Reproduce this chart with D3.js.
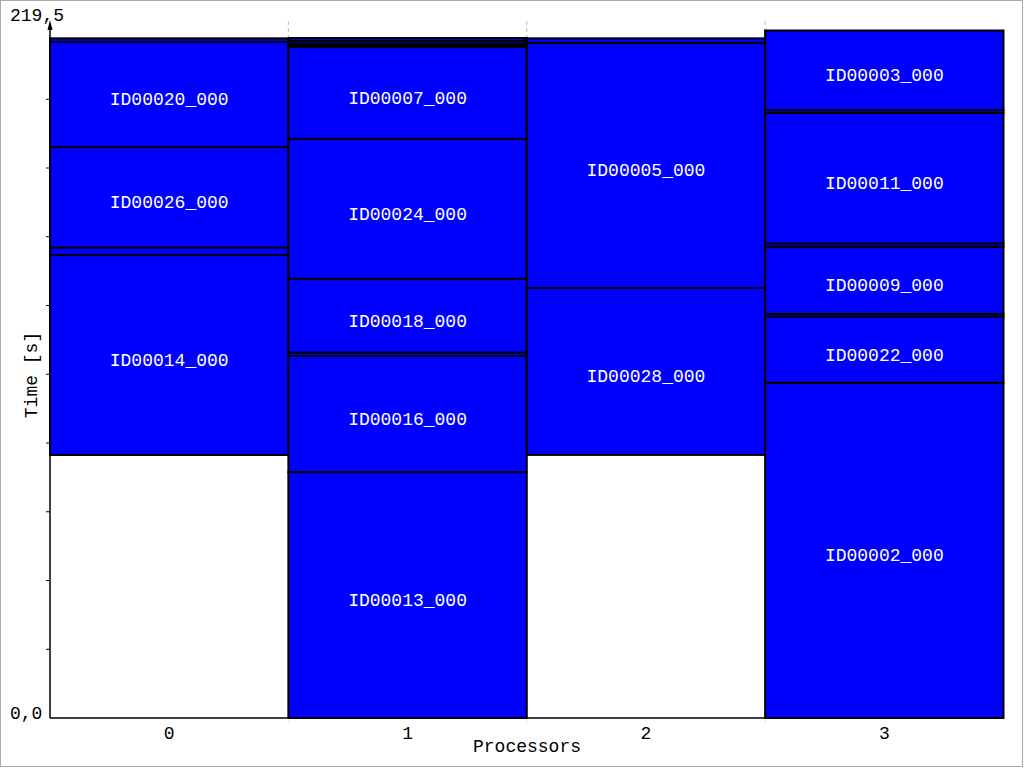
<!DOCTYPE html>
<html><head><meta charset="utf-8">
<script src="https://cdn.jsdelivr.net/npm/d3@7"></script>
<style>body{margin:0;background:#fff}svg{display:block}text{font-family:"Liberation Mono","Courier New",monospace}</style>
</head><body>
<script>
const processors = ["0","1","2","3"];
const taskProc  = [0,0,0,0,0, 1,1,1,1,1,1,1,1,1,1, 2,2,2, 3,3,3,3,3,3,3,3];
const taskStart = [83.97,147.8,150.2,182.3,215.9, 0,78.5,115.6,116.7,140.2,184.9,214.2,214.8,215.3,216.2, 84.0,137.3,215.5, 0,107.0,128.2,129.0,150.5,151.5,193.2,194.1];
const taskEnd   = [147.8,150.2,182.3,215.9,217.0, 78.5,115.6,116.7,140.2,184.9,214.2,214.8,215.3,216.2,217.1, 137.3,215.5,217.0, 107.0,128.2,129.0,150.5,151.5,193.2,194.1,219.5];
const taskLabel = ["ID00014_000","","ID00026_000","ID00020_000","",
  "ID00013_000","ID00016_000","","ID00018_000","ID00024_000","ID00007_000","","","","",
  "ID00028_000","ID00005_000","",
  "ID00002_000","ID00022_000","","ID00009_000","","ID00011_000","","ID00003_000"];
const yMax = 219.5;
const yTickCount = 10;
const yMinLabel = "0,0", yMaxLabel = "219,5";
const xTitle = "Processors", yTitle = "Time [s]";

const W = 1024, H = 768;
const svg = d3.select("body").append("svg").attr("width", W).attr("height", H);
svg.append("rect").attr("x",0.5).attr("y",0.5).attr("width",1022).attr("height",766)
  .attr("fill","#fff").attr("stroke","#aaa");

const x = d3.scaleBand().domain(processors).range([50, 1003.5]).padding(0);
const y = d3.scaleLinear().domain([0, yMax]).range([718, 30.5]);

// dashed column separators
const seps = processors.slice(1);
svg.selectAll("line.sep").data(seps).join("line").attr("class","sep")
  .attr("x1", d => x(d)).attr("x2", d => x(d)).attr("y1", 21).attr("y2", 722)
  .attr("stroke","#bbb").attr("stroke-dasharray","4,3");

const tasks = taskProc.map((p,i)=>({p:processors[p], s:taskStart[i], e:taskEnd[i], l:taskLabel[i]}));
svg.selectAll("rect.task").data(tasks).join("rect").attr("class","task")
  .attr("x", d => x(d.p)).attr("width", x.bandwidth())
  .attr("y", d => y(d.e)).attr("height", d => y(d.s) - y(d.e))
  .attr("fill","#0000ff").attr("stroke","#000").attr("stroke-width",2);

svg.selectAll("text.lbl").data(tasks.filter(d=>d.l)).join("text").attr("class","lbl")
  .attr("x", d => x(d.p) + x.bandwidth()/2)
  .attr("y", d => (y(d.s)+y(d.e))/2 + 11)
  .attr("text-anchor","middle").attr("fill","#fff").attr("font-size",18)
  .text(d => d.l);

// axes
svg.append("line").attr("x1",50).attr("x2",1003.5).attr("y1",718).attr("y2",718).attr("stroke","#000").attr("stroke-width",1.5);
svg.append("line").attr("x1",50).attr("x2",50).attr("y1",718).attr("y2",26).attr("stroke","#000").attr("stroke-width",1.5);
svg.append("path").attr("d","M50,20 L52.5,30 L47.5,30 Z").attr("fill","#000");
const yt = d3.range(1, yTickCount).map(i => yMax*i/yTickCount);
svg.selectAll("line.yt").data(yt).join("line").attr("class","yt")
  .attr("x1",46).attr("x2",50).attr("y1",d=>y(d)).attr("y2",d=>y(d)).attr("stroke","#000");

svg.append("text").attr("x",10).attr("y",21).attr("font-size",18).attr("fill","#000").text(yMaxLabel);
svg.append("text").attr("x",10).attr("y",719).attr("font-size",18).attr("fill","#000").text(yMinLabel);
svg.selectAll("text.xt").data(processors).join("text").attr("class","xt")
  .attr("x", d => x(d)+x.bandwidth()/2).attr("y",739).attr("text-anchor","middle")
  .attr("font-size",18).text(d=>d);
svg.append("text").attr("x",527).attr("y",752).attr("text-anchor","middle").attr("font-size",18).text(xTitle);
svg.append("text").attr("transform","translate(37,375) rotate(-90)").attr("text-anchor","middle").attr("font-size",18).text(yTitle);
</script>
</body></html>
